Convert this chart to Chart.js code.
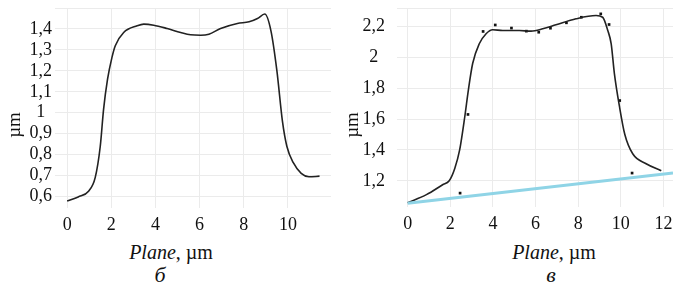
<!DOCTYPE html>
<html>
<head>
<meta charset="utf-8">
<script src="https://cdn.jsdelivr.net/npm/chart.js@4"></script>
<style>
  body { margin: 0; background: #fff; }
  #wrap { position: relative; width: 686px; height: 308px; background: #fff; font-family: "Liberation Serif", serif; color: #111; overflow: hidden; }
  .box { position: absolute; width: 343px; }
  .lbl { position: absolute; font-size: 20px; line-height: 20px; white-space: nowrap; transform: translateX(-50%); }
  .ylbl { position: absolute; font-size: 19px; line-height: 19px; white-space: nowrap; transform: translate(-50%, -50%) rotate(-90deg); }
  .sub { position: absolute; font-size: 22px; line-height: 22px; font-style: italic; transform: translateX(-50%); }
</style>
</head>
<body>
<div id="wrap">
  <div class="box" style="left:0;top:-4px;height:244px"><canvas id="chartB" width="343" height="244"></canvas></div>
  <div class="box" style="left:343px;top:-13px;height:252px"><canvas id="chartV" width="343" height="252"></canvas></div>
  <div class="ylbl" style="left:13px;top:125px">µm</div>
  <div class="ylbl" style="left:351px;top:125px">µm</div>
  <div class="lbl" style="left:171px;top:242px"><i>Plane</i>, µm</div>
  <div class="lbl" style="left:554px;top:242px"><i>Plane</i>, µm</div>
  <div class="sub" style="left:160px;top:264px">б</div>
  <div class="sub" style="left:551px;top:264px">в</div>
</div>
<script>
// profile б
const planeB = [0, 0.5, 0.97, 1.27, 1.5, 1.65, 1.83, 2.03, 2.18, 2.56, 3.17, 3.47, 3.92, 4.53, 5.14, 5.59, 6.05, 6.42, 6.95, 7.71, 8.24, 8.62, 8.95, 9.23, 9.5, 9.75, 9.95, 10.25, 10.6, 10.95, 11.43];
const depthB = [0.578, 0.598, 0.625, 0.69, 0.84, 1.016, 1.16, 1.264, 1.32, 1.383, 1.415, 1.423, 1.418, 1.402, 1.383, 1.372, 1.37, 1.375, 1.402, 1.426, 1.434, 1.45, 1.471, 1.391, 1.2, 0.96, 0.84, 0.76, 0.71, 0.694, 0.697];

// profile в: fitted curve, measured points, base line
const planeV = [0, 0.88, 1.64, 1.95, 2.21, 2.44, 2.68, 2.85, 3.05, 3.36, 3.68, 3.99, 4.46, 5.24, 5.79, 6.34, 6.96, 7.9, 8.84, 9.15, 9.39, 9.55, 9.7, 9.94, 10.19, 10.56, 11.19, 11.9];
const depthV = [1.058, 1.11, 1.174, 1.2, 1.28, 1.4, 1.615, 1.79, 1.96, 2.088, 2.153, 2.179, 2.174, 2.174, 2.17, 2.185, 2.211, 2.25, 2.271, 2.26, 2.174, 2.088, 1.895, 1.68, 1.5, 1.375, 1.31, 1.265];
const dotPlaneV = [2.46, 2.83, 3.54, 4.11, 4.87, 5.57, 6.15, 6.7, 7.45, 8.15, 9.06, 9.45, 9.95, 10.53];
const dotDepthV = [1.12, 1.63, 2.168, 2.21, 2.19, 2.17, 2.163, 2.189, 2.224, 2.26, 2.282, 2.213, 1.72, 1.25];
const basePlaneV = [0, 12.45];
const baseDepthV = [1.055, 1.25];

// ticks
const xTicksB = [0, 2, 4, 6, 8, 10];
const yTicksB = [0.6, 0.7, 0.8, 0.9, 1.0, 1.1, 1.2, 1.3, 1.4];
const xTicksV = [0, 2, 4, 6, 8, 10, 12];
const yTicksV = [1.2, 1.4, 1.6, 1.8, 2.0, 2.2];

const zip = (xs, ys) => xs.map((x, i) => ({ x: x, y: ys[i] }));
const fmt = v => {
  const r = Math.round(v * 10) / 10;
  return Number.isInteger(r) ? String(r) : r.toFixed(1).replace('.', ',');
};
const tickFont = { family: 'Liberation Serif', size: 18, lineHeight: 1 };
const gridColor = '#ebebeb';

function makeOptions(o) {
  return {
    responsive: false,
    animation: false,
    layout: { padding: { top: o.padTop, right: o.padRight, left: 0, bottom: 0 } },
    plugins: { legend: { display: false }, tooltip: { enabled: false } },
    scales: {
      x: {
        type: 'linear',
        min: o.xMin, max: o.xMax,
        border: { display: false },
        grid: { color: gridColor, drawTicks: false },
        afterBuildTicks: s => { s.ticks = o.xTicks.map(v => ({ value: v })); },
        afterFit: s => { s.height = 32; },
        ticks: { font: { family: 'Liberation Serif', size: 18 }, color: '#111', padding: 6, maxRotation: 0, autoSkip: false, callback: v => fmt(v) }
      },
      y: {
        type: 'linear',
        min: o.yMin, max: o.yMax,
        border: { display: false },
        grid: { color: gridColor, drawTicks: false },
        afterBuildTicks: s => { s.ticks = o.yTicks.concat([o.yMax]).map(v => ({ value: v })); },
        afterFit: s => { s.width = o.yWidth; },
        ticks: {
          font: tickFont, color: '#111', padding: o.yPad, crossAlign: 'center', autoSkip: false,
          callback: v => (o.yTicks.some(t => Math.abs(t - v) < 1e-6) ? fmt(v) : '')
        }
      }
    }
  };
}

new Chart(document.getElementById('chartB'), {
  type: 'scatter',
  data: {
    datasets: [{
      data: zip(planeB, depthB),
      showLine: true,
      borderColor: '#222',
      borderWidth: 1.6,
      pointRadius: 0,
      cubicInterpolationMode: 'monotone'
    }]
  },
  options: makeOptions({ xMin: -0.55, xMax: 11.95, yMin: 0.545, yMax: 1.5, xTicks: xTicksB, yTicks: yTicksB, padTop: 12, padRight: 12, yWidth: 55, yPad: 3 })
});

new Chart(document.getElementById('chartV'), {
  type: 'scatter',
  data: {
    datasets: [{
      data: zip(basePlaneV, baseDepthV),
      showLine: true,
      borderColor: '#8fd4e6',
      borderWidth: 3,
      pointRadius: 0
    }, {
      data: zip(planeV, depthV),
      showLine: true,
      borderColor: '#222',
      borderWidth: 1.6,
      pointRadius: 0,
      cubicInterpolationMode: 'monotone'
    }, {
      data: zip(dotPlaneV, dotDepthV),
      showLine: false,
      pointStyle: 'rect',
      pointRadius: 1.9,
      backgroundColor: '#111',
      borderColor: '#111',
      borderWidth: 0
    }]
  },
  options: makeOptions({ xMin: -0.5, xMax: 12.45, yMin: 1.03, yMax: 2.32, xTicks: xTicksV, yTicks: yTicksV, padTop: 21, padRight: 13, yWidth: 54, yPad: 12 })
});
</script>
</body>
</html>
